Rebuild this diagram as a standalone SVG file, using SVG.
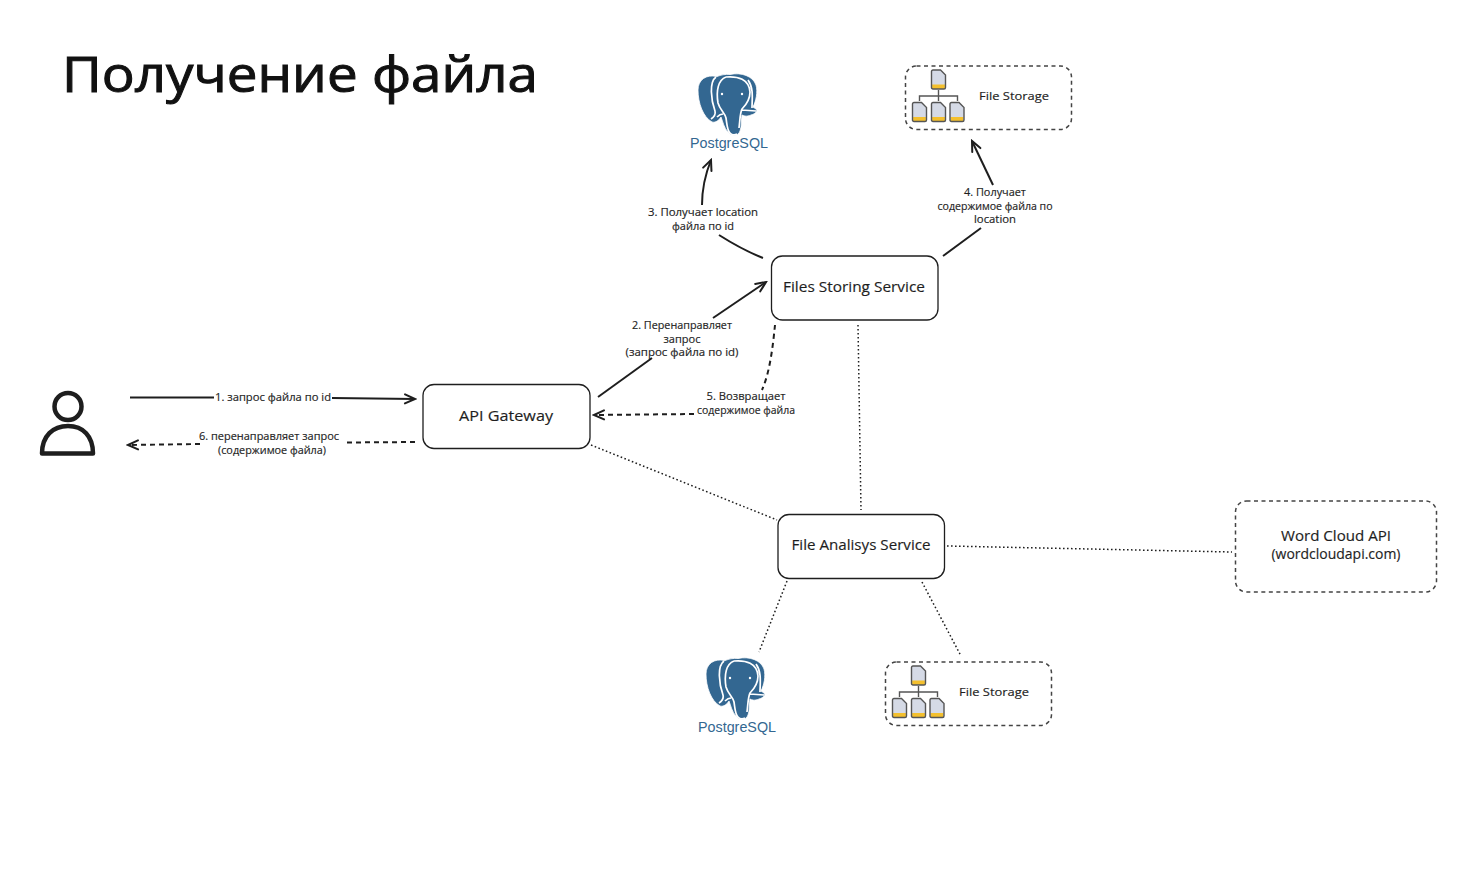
<svg xmlns="http://www.w3.org/2000/svg" xmlns:xlink="http://www.w3.org/1999/xlink" width="1465" height="869" viewBox="0 0 1465 869">
<style>
text{font-family:"Open Sans","DejaVu Sans",sans-serif;fill:#1e1e1e;text-anchor:middle;stroke:#1e1e1e;stroke-width:.15}
.l{font-size:10.500px}
.n{font-size:14px}
.s{font-size:11.500px}
.box{fill:#fff;stroke:#1e1e1e;stroke-width:1.300}
.dbox{fill:#fff;stroke:#444;stroke-width:1.500;stroke-dasharray:4 3.500}
.c{fill:none;stroke:#1e1e1e;stroke-width:2;stroke-linecap:butt}
.da{stroke-dasharray:5 4}
.do{stroke-width:1.500;stroke-dasharray:1.600 2.400}
.pg{font-family:"Liberation Sans",sans-serif;font-size:15.500px;fill:#336791;stroke:none}
</style>
<defs>
<marker id="a" viewBox="0 0 14 14" refX="12" refY="7" markerWidth="14" markerHeight="14" markerUnits="userSpaceOnUse" orient="auto"><path d="M2 2.500L12 7L2 11.500" fill="none" stroke="#1e1e1e" stroke-width="2" stroke-linecap="round"/></marker>
<g id="pg">
<path d="M717 76.500C706 74 698 80 698 90C698 103 703 117 712 122C716 123 719 120 721 117C723 122 724 128 728 132C731 136 738 137 740 131C742 126 741 120 742 115C745 117 749 116 751 115C755 114 758 111 756 109L753 107C756 101 758 92 756 85C753 76 741 72 730 74.500C725 74 721 75 717 76.500Z" fill="#336791" stroke="#fff" stroke-width=".8"/>
<path d="M716 77C709 82 711 100 715 111C716 115 714 117 711 119M726 77C718 80 716 91 718 103C720 110 725 113 726 118C727 124 727 130 730 133C732 135 735 135 737 134M726 77C738 76 749 79 750 92C750 100 746 105 742 109C740 113 740 120 739 128M717 117C719 115 721 114 723 114M742 110L756 111M752 108C752 100 754 88 748 80" fill="none" stroke="#fff" stroke-width="1.700"/>
<circle cx="722" cy="94" r="1.200" fill="#fff"/><circle cx="742" cy="94" r="1.200" fill="#fff"/>
<text x="729" y="148" class="pg" textLength="78" lengthAdjust="spacingAndGlyphs">PostgreSQL</text>
</g>
<g id="doc">
<path d="M2.500 1H10L15 6V18.500Q15 20 13.500 20H2.500Q1 20 1 18.500V2.500Q1 1 2.500 1Z" fill="#d5dae6"/>
<rect x="1.600" y="15.500" width="12.800" height="4.500" fill="#f4c02e"/>
<path d="M2.500 1H10L15 6V18.500Q15 20 13.500 20H2.500Q1 20 1 18.500V2.500Q1 1 2.500 1Z" fill="none" stroke="#555" stroke-width="1.400"/>
</g>
<g id="fs">
<rect x="905.500" y="66" width="166" height="63.500" rx="11" class="dbox"/>
<path d="M938.500 90V101M919.500 101V96H957.500V101" fill="none" stroke="#555" stroke-width="1.400"/>
<use xlink:href="#doc" x="930.500" y="69"/>
<use xlink:href="#doc" x="911.500" y="101.500"/>
<use xlink:href="#doc" x="930.500" y="101.500"/>
<use xlink:href="#doc" x="949" y="101.500"/>
<text x="1014" y="100" class="s" textLength="70" lengthAdjust="spacingAndGlyphs">File Storage</text>
</g>
</defs>
<rect width="1465" height="869" fill="#fff"/>
<text x="300" y="92" style="font-size:50px;fill:#111;stroke:#111;stroke-width:1" textLength="476" lengthAdjust="spacingAndGlyphs">Получение файла</text>
<g id="connectors">
<path class="c" d="M130 397.500L214 397.500"/>
<path class="c" d="M332 398L415 399" marker-end="url(#a)"/>
<path class="c da" d="M415 442L347 442.500"/>
<path class="c da" d="M200 444L128 445" marker-end="url(#a)"/>
<path class="c" d="M598 397L652 358"/>
<path class="c" d="M713 318L766 282" marker-end="url(#a)"/>
<path class="c da" d="M775 325C773 345 770 372 762 390"/>
<path class="c da" d="M694 414L594 415" marker-end="url(#a)"/>
<path class="c" d="M763 258C748 252 730 242 719 235"/>
<path class="c" d="M702 205C702 190 705 175 711 160" marker-end="url(#a)"/>
<path class="c" d="M943 256L981 228"/>
<path class="c" d="M993 185L972 141" marker-end="url(#a)"/>
<path class="c do" d="M858 325L861 510"/>
<path class="c do" d="M591 445L777 520"/>
<path class="c do" d="M947 546L1232 552"/>
<path class="c do" d="M787 581L759 652"/>
<path class="c do" d="M922 582L961 656"/>
</g>
<g id="user" fill="none" stroke="#1e1e1e" stroke-width="4.500" stroke-linejoin="round">
<circle cx="68" cy="406.500" r="13.500"/>
<path d="M42 453.500C42 436 53 426 68 426C83 426 93 436 93 453.500Z"/>
</g>
<g id="api-gateway"><rect x="423" y="384.500" width="167" height="64" rx="11" class="box"/><text x="506" y="421" class="n" textLength="94" lengthAdjust="spacingAndGlyphs">API Gateway</text></g>
<g id="files-storing"><rect x="771.500" y="256" width="166.500" height="64" rx="11" class="box"/><text x="854" y="292" class="n" textLength="142" lengthAdjust="spacingAndGlyphs">Files Storing Service</text></g>
<g id="file-analysis"><rect x="778" y="514.500" width="166.500" height="64" rx="11" class="box"/><text x="861" y="550" class="n" textLength="139" lengthAdjust="spacingAndGlyphs">File Analisys Service</text></g>
<g id="word-cloud"><rect x="1235.500" y="501" width="201" height="91" rx="11" class="dbox"/><text x="1336" y="541" class="n" textLength="110" lengthAdjust="spacingAndGlyphs">Word Cloud API</text><text x="1336" y="559" class="n" textLength="129" lengthAdjust="spacingAndGlyphs">(wordcloudapi.com)</text></g>
<g id="postgres-1"><use xlink:href="#pg"/></g>
<g id="postgres-2"><use xlink:href="#pg" x="8" y="584"/></g>
<g id="file-storage-1"><use xlink:href="#fs"/></g>
<g id="file-storage-2"><use xlink:href="#fs" x="-20" y="596"/></g>
<g id="labels">
<text x="273" y="401" class="l" textLength="116" lengthAdjust="spacingAndGlyphs">1. запрос файла по id</text>
<text x="269" y="440" class="l" textLength="140" lengthAdjust="spacingAndGlyphs">6. перенаправляет запрос</text>
<text x="272" y="454" class="l" textLength="108" lengthAdjust="spacingAndGlyphs">(содержимое файла)</text>
<text x="682" y="329" class="l" textLength="100" lengthAdjust="spacingAndGlyphs">2. Перенаправляет</text>
<text x="682" y="343" class="l" textLength="37" lengthAdjust="spacingAndGlyphs">запрос</text>
<text x="682" y="356" class="l" textLength="113" lengthAdjust="spacingAndGlyphs">(запрос файла по id)</text>
<text x="703" y="216" class="l" textLength="110" lengthAdjust="spacingAndGlyphs">3. Получает location</text>
<text x="703" y="230" class="l" textLength="62" lengthAdjust="spacingAndGlyphs">файла по id</text>
<text x="995" y="196" class="l" textLength="62" lengthAdjust="spacingAndGlyphs">4. Получает</text>
<text x="995" y="210" class="l" textLength="115" lengthAdjust="spacingAndGlyphs">содержимое файла по</text>
<text x="995" y="223" class="l" textLength="42" lengthAdjust="spacingAndGlyphs">location</text>
<text x="746" y="400" class="l" textLength="79" lengthAdjust="spacingAndGlyphs">5. Возвращает</text>
<text x="746" y="414" class="l" textLength="98" lengthAdjust="spacingAndGlyphs">содержимое файла</text>
</g>
</svg>
